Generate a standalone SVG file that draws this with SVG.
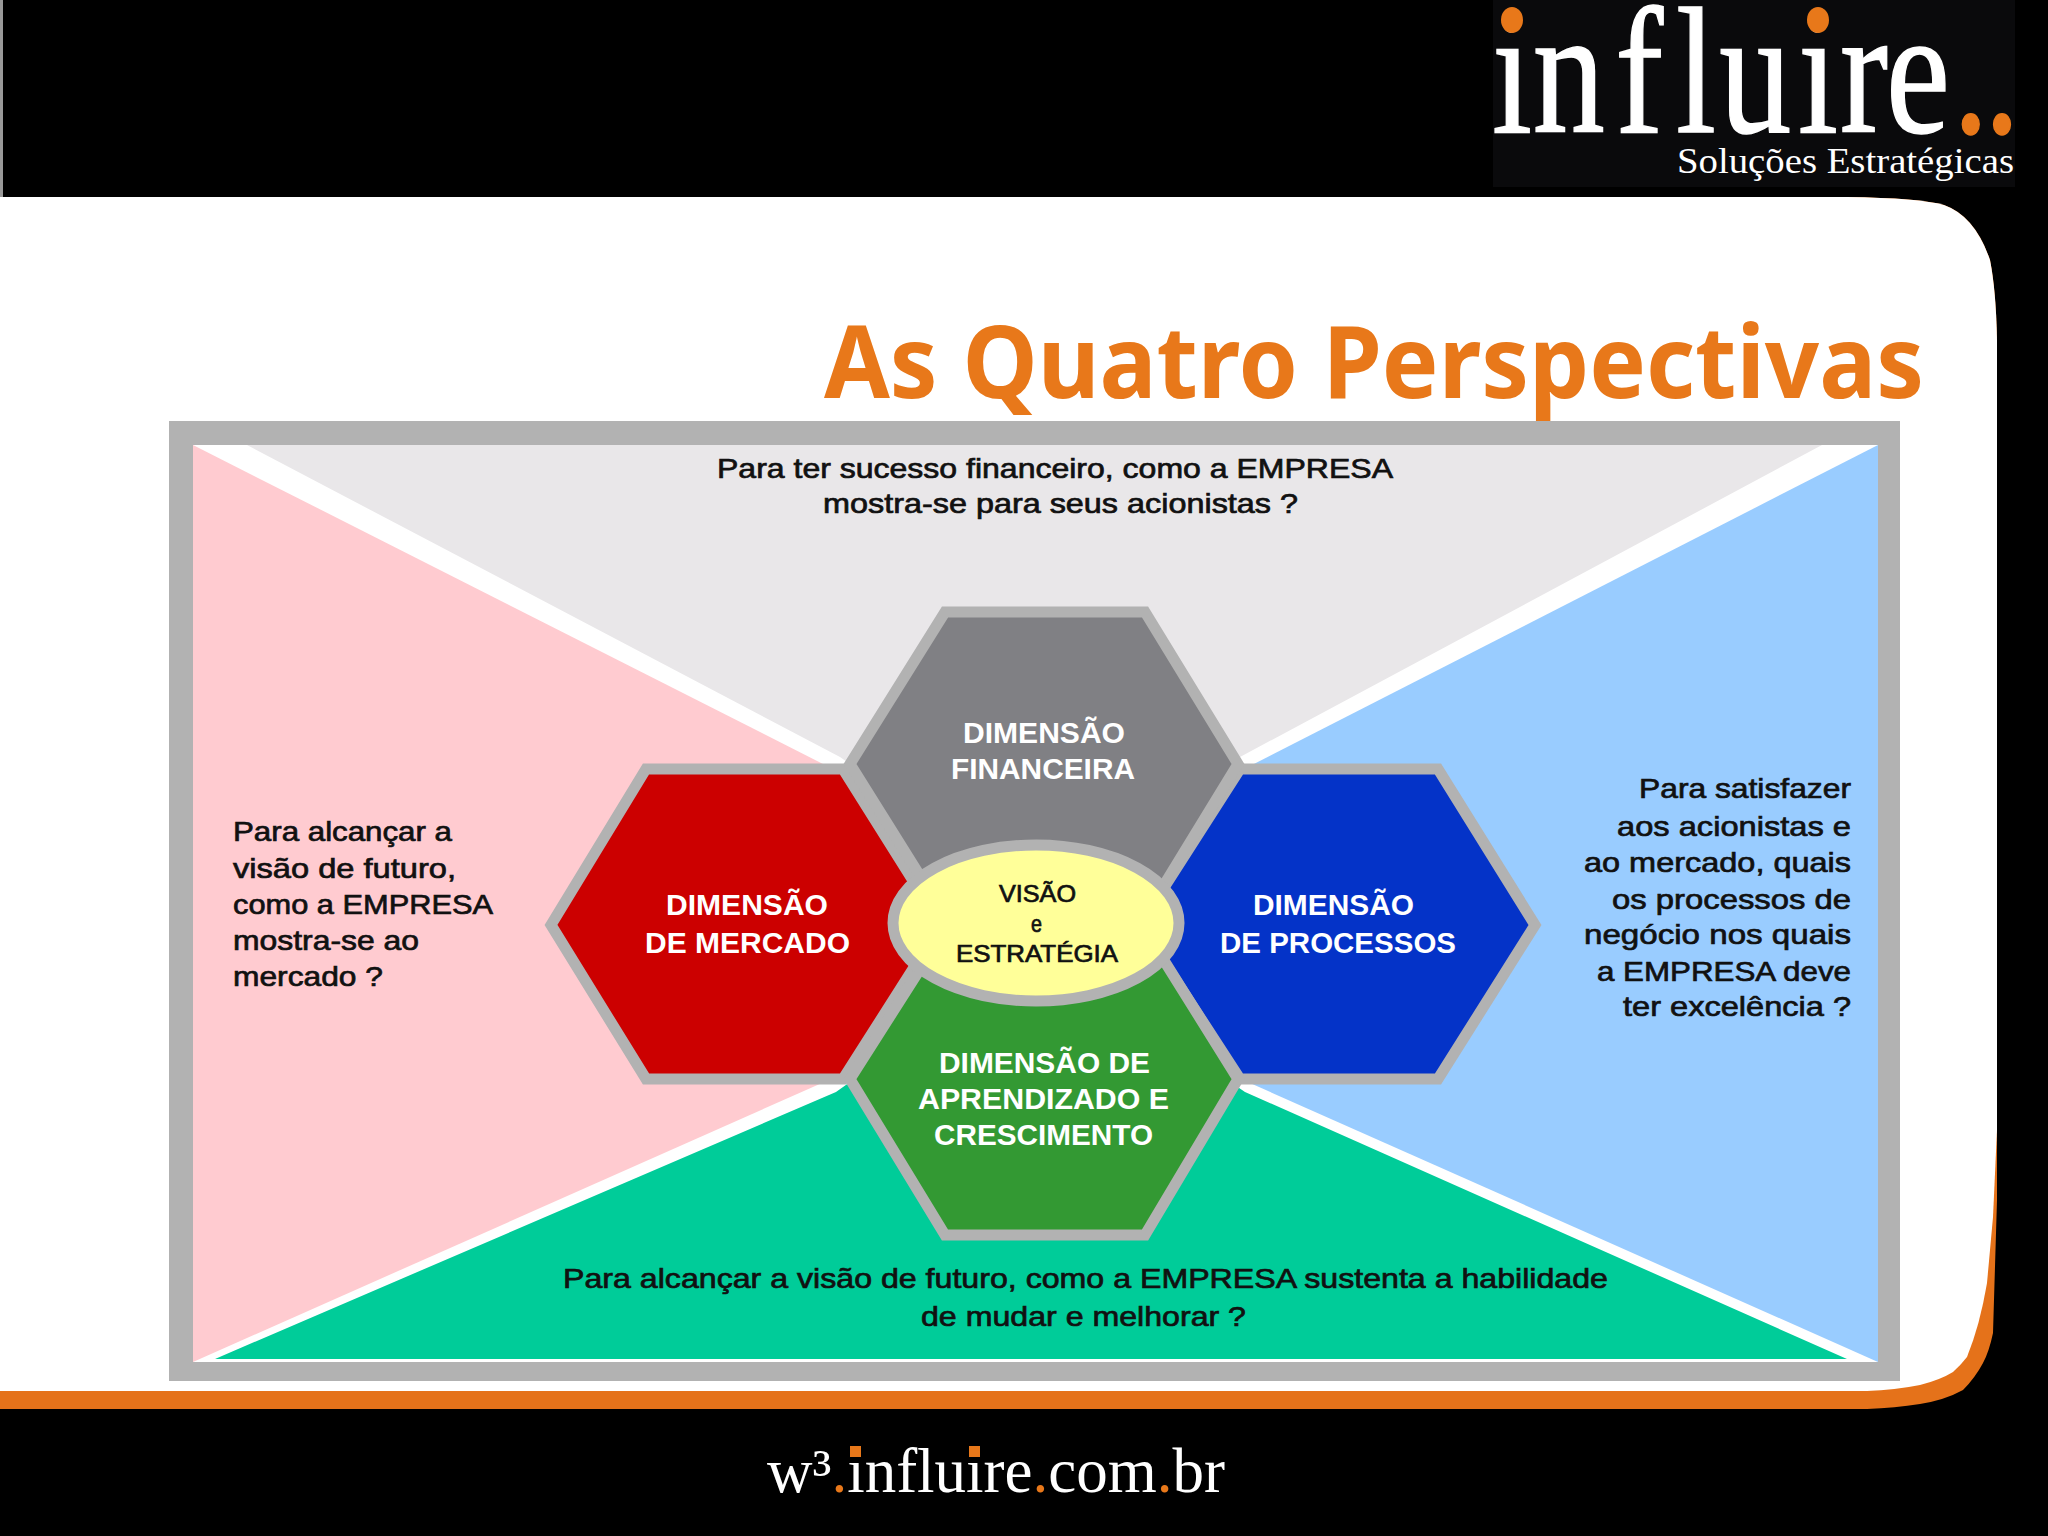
<svg xmlns="http://www.w3.org/2000/svg" width="2048" height="1536" viewBox="0 0 2048 1536">
<style>
.body{font-family:"Liberation Sans",Arial,sans-serif;font-size:28px;fill:#111;stroke:#111;stroke-width:.7}
.head{font-family:"Liberation Sans",Arial,sans-serif;font-size:29px;font-weight:bold;fill:#fff;text-anchor:start}
.hex{stroke:#b2b2b2;stroke-width:11;stroke-linejoin:miter}
.serif{font-family:"Liberation Serif","Times New Roman",serif;fill:#fff}
.or{fill:#e8781a}
</style>
<rect width="2048" height="1536" fill="#000"/>
<rect x="0" y="0" width="3" height="197" fill="#999"/>
<path id="panel-edge" d="M0,197H1847Q1920,198 1944,205Q1975,216 1990,260Q1996,290 1997,340V1200L1993,1333Q1989,1352 1983,1363Q1975,1378 1963,1390Q1945,1400 1920,1404Q1895,1408 1867,1409H0Z" fill="#e5721a"/>
<path id="panel" d="M0,197H1847Q1920,198 1944,205Q1975,216 1990,260Q1996,290 1997,340V1130L1993,1217L1987,1283Q1980,1325 1967,1357Q1960,1366 1953,1372Q1940,1380 1920,1385Q1895,1390 1867,1391H0Z" fill="#fff"/>

<g id="logo">
<rect x="1493" y="0" width="522" height="187" fill="#0a0a0c"/>
<text class="serif" transform="scale(.8,1)" y="132" font-size="180" stroke="#fff" stroke-width="1.5" x="1865 1916 2019 2095 2149 2247.5 2300 2357.5 2441 2480">influire<tspan class="or" stroke="#e8781a">..</tspan></text>
<ellipse class="or" cx="1512" cy="20" rx="11" ry="13"/>
<ellipse class="or" cx="1818" cy="20" rx="11" ry="13"/>
<text class="serif" x="1677" y="173" font-size="36" textLength="337" lengthAdjust="spacingAndGlyphs">Soluções Estratégicas</text>
</g>

<text id="title" x="824" y="398" font-family="'Noto Sans','DejaVu Sans',sans-serif" font-weight="bold" font-size="100" fill="#e8781a" textLength="1100" lengthAdjust="spacingAndGlyphs">As Quatro Perspectivas</text>

<g id="frame">
<rect x="169" y="421" width="1731" height="960" fill="#b2b2b2"/>
<rect x="193" y="445" width="1685" height="917" fill="#fff"/>
</g>

<g id="quadrants">
<polygon id="q-top" points="247,445 1822,445 1240,757 1044,900 840,757" fill="#e9e7e9"/>
<polygon id="q-left" points="193,445 825,765 930,925 822,1083 193,1362" fill="#ffcbd0"/>
<polygon id="q-right" points="1878,445 1250,766 1140,925 1250,1083 1878,1362" fill="#99ccff"/>
<polygon id="q-bottom" points="215,1359 1847,1359 1245,1092 1036,950 836,1092" fill="#00cc99"/>
</g>

<g id="node-mercado">
<polygon class="hex" points="646,769 843,769 941,925 843,1079 646,1079 551,925" fill="#cc0000"/>
<text class="head" x="666" y="915" textLength="162" lengthAdjust="spacingAndGlyphs">DIMENSÃO</text>
<text class="head" x="645" y="953" textLength="205" lengthAdjust="spacingAndGlyphs">DE MERCADO</text>
</g>
<g id="node-processos">
<polygon class="hex" points="1240,769 1438,769 1535,925 1438,1079 1240,1079 1140,925" fill="#0433c8"/>
<text class="head" x="1253" y="915" textLength="161" lengthAdjust="spacingAndGlyphs">DIMENSÃO</text>
<text class="head" x="1220" y="953" textLength="236" lengthAdjust="spacingAndGlyphs">DE PROCESSOS</text>
</g>
<g id="node-financeira">
<polygon class="hex" points="945,612 1145,612 1238,764 1145,916 945,916 850,764" fill="#808084"/>
<text class="head" x="963" y="743" textLength="162" lengthAdjust="spacingAndGlyphs">DIMENSÃO</text>
<text class="head" x="951" y="779" textLength="184" lengthAdjust="spacingAndGlyphs">FINANCEIRA</text>
</g>
<g id="node-aprendizado">
<polygon class="hex" points="945,930 1145,930 1238,1079 1145,1235 945,1235 850,1079" fill="#339933"/>
<text class="head" x="939" y="1073" textLength="211" lengthAdjust="spacingAndGlyphs">DIMENSÃO DE</text>
<text class="head" x="918" y="1109" textLength="251" lengthAdjust="spacingAndGlyphs">APRENDIZADO E</text>
<text class="head" x="934" y="1145" textLength="219" lengthAdjust="spacingAndGlyphs">CRESCIMENTO</text>
</g>
<g id="node-visao">
<ellipse cx="1036" cy="923" rx="143" ry="78" fill="#ffff99" stroke="#b2b2b2" stroke-width="11"/>
<text class="body" style="font-size:24px" x="999" y="902" textLength="77" lengthAdjust="spacingAndGlyphs">VISÃO</text>
<text class="body" style="font-size:24px" x="1031" y="932" textLength="11" lengthAdjust="spacingAndGlyphs">e</text>
<text class="body" style="font-size:24px" x="956" y="962" textLength="162" lengthAdjust="spacingAndGlyphs">ESTRATÉGIA</text>
</g>

<g id="label-top">
<text class="body" x="717" y="478" textLength="676" lengthAdjust="spacingAndGlyphs">Para ter sucesso financeiro, como a EMPRESA</text>
<text class="body" x="823" y="513" textLength="475" lengthAdjust="spacingAndGlyphs">mostra-se para seus acionistas ?</text>
</g>
<g id="label-left">
<text class="body" x="233" y="841" textLength="219" lengthAdjust="spacingAndGlyphs">Para alcançar a</text>
<text class="body" x="233" y="878" textLength="223" lengthAdjust="spacingAndGlyphs">visão de futuro,</text>
<text class="body" x="233" y="914" textLength="260" lengthAdjust="spacingAndGlyphs">como a EMPRESA</text>
<text class="body" x="233" y="950" textLength="186" lengthAdjust="spacingAndGlyphs">mostra-se ao</text>
<text class="body" x="233" y="986" textLength="150" lengthAdjust="spacingAndGlyphs">mercado ?</text>
</g>
<g id="label-right">
<text class="body" x="1639" y="798" textLength="212" lengthAdjust="spacingAndGlyphs">Para satisfazer</text>
<text class="body" x="1617" y="836" textLength="234" lengthAdjust="spacingAndGlyphs">aos acionistas e</text>
<text class="body" x="1584" y="872" textLength="267" lengthAdjust="spacingAndGlyphs">ao mercado, quais</text>
<text class="body" x="1612" y="909" textLength="239" lengthAdjust="spacingAndGlyphs">os processos de</text>
<text class="body" x="1584" y="944" textLength="267" lengthAdjust="spacingAndGlyphs">negócio nos quais</text>
<text class="body" x="1597" y="981" textLength="254" lengthAdjust="spacingAndGlyphs">a EMPRESA deve</text>
<text class="body" x="1623" y="1016" textLength="228" lengthAdjust="spacingAndGlyphs">ter excelência ?</text>
</g>
<g id="label-bottom">
<text class="body" x="563" y="1288" textLength="1045" lengthAdjust="spacingAndGlyphs">Para alcançar a visão de futuro, como a EMPRESA sustenta a habilidade</text>
<text class="body" x="921" y="1326" textLength="325" lengthAdjust="spacingAndGlyphs">de mudar e melhorar ?</text>
</g>

<g id="footer">
<text class="serif" x="767" y="1492" font-size="63" textLength="458" lengthAdjust="spacingAndGlyphs">w³<tspan class="or">.</tspan>influire<tspan class="or">.</tspan>com<tspan class="or">.</tspan>br</text>
<rect class="or" x="850" y="1446" width="11" height="11"/>
<rect class="or" x="969" y="1446" width="11" height="11"/>
</g>
</svg>
